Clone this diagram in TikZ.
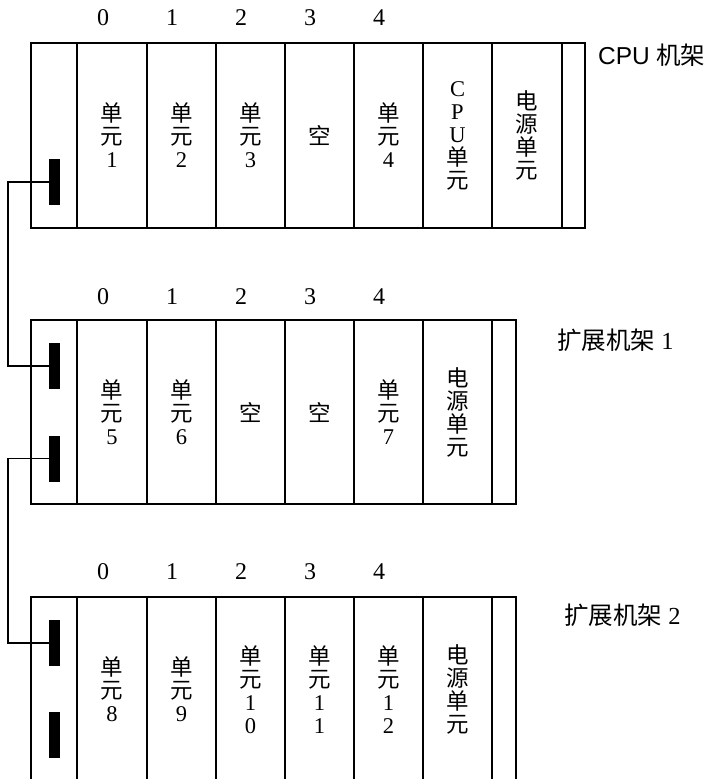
\documentclass[tikz,border=0pt]{standalone}
\usepackage{fontspec}
\setmainfont{Liberation Serif}
\newfontfamily\cjk{Noto Sans CJK SC}
\newfontfamily\sansf{Liberation Sans}
\newcommand\cj[1]{{\cjk #1}}
\tikzset{
  rackpart/.style={draw, line width=1.3pt, inner sep=0pt, outer sep=0pt,
    anchor=north west, minimum height=185pt, align=center,
    font=\fontsize{22.5}{23}\selectfont},
  port/.style={fill=black, draw=none, inner sep=0pt, outer sep=0pt,
    minimum width=11pt, minimum height=46pt},
  slotnum/.style={font=\fontsize{24}{26}\selectfont, inner sep=0pt},
  racklabel/.style={font=\fontsize{24.5}{26}\selectfont, anchor=west, inner sep=0pt},
  wire/.style={line width=1.2pt}
}
\begin{document}
\begin{tikzpicture}[x=1pt,y=-1pt]
\useasboundingbox (0,0) rectangle (715,779);
\clip (0,0) rectangle (715,779);
% ---------------- CPU rack ----------------
\node[rackpart, minimum width=46] (r1f) at (31,43) {};
\node[rackpart, minimum width=70] (r1s0) at (77,43) {\cj{单}\\\cj{元}\\1};
\node[rackpart, minimum width=69] (r1s1) at (147,43) {\cj{单}\\\cj{元}\\2};
\node[rackpart, minimum width=69] (r1s2) at (216,43) {\cj{单}\\\cj{元}\\3};
\node[rackpart, minimum width=69] (r1s3) at (285,43) {\cj{空}};
\node[rackpart, minimum width=69] (r1s4) at (354,43) {\cj{单}\\\cj{元}\\4};
\node[rackpart, minimum width=69] (r1cpu) at (423,43) {C\\P\\U\\\cj{单}\\\cj{元}};
\node[rackpart, minimum width=70] (r1pw) at (492,43) {\cj{电}\\\cj{源}\\\cj{单}\\\cj{元}};
\node[rackpart, minimum width=23] (r1e) at (562,43) {};
\node[racklabel] (r1lab) at (598,55) {{\sansf CPU} \cj{机架}};
\node[slotnum] (r1n0) at (103,18) {0};
\node[slotnum] (r1n1) at (172,18) {1};
\node[slotnum] (r1n2) at (241,18) {2};
\node[slotnum] (r1n3) at (310,18) {3};
\node[slotnum] (r1n4) at (379,18) {4};
\node[port] (p1) at (54.5,182) {};
% ---------------- Expansion rack 1 ----------------
\node[rackpart, minimum width=46, minimum height=184] (r2f) at (31,320) {};
\node[rackpart, minimum width=70, minimum height=184] (r2s0) at (77,320) {\cj{单}\\\cj{元}\\5};
\node[rackpart, minimum width=69, minimum height=184] (r2s1) at (147,320) {\cj{单}\\\cj{元}\\6};
\node[rackpart, minimum width=69, minimum height=184] (r2s2) at (216,320) {\cj{空}};
\node[rackpart, minimum width=69, minimum height=184] (r2s3) at (285,320) {\cj{空}};
\node[rackpart, minimum width=69, minimum height=184] (r2s4) at (354,320) {\cj{单}\\\cj{元}\\7};
\node[rackpart, minimum width=69, minimum height=184] (r2pw) at (423,320) {\cj{电}\\\cj{源}\\\cj{单}\\\cj{元}};
\node[rackpart, minimum width=24, minimum height=184] (r2e) at (492,320) {};
\node[racklabel] (r2lab) at (557,340) {\cj{扩展机架} 1};
\node[slotnum] (r2n0) at (103,297) {0};
\node[slotnum] (r2n1) at (172,297) {1};
\node[slotnum] (r2n2) at (241,297) {2};
\node[slotnum] (r2n3) at (310,297) {3};
\node[slotnum] (r2n4) at (379,297) {4};
\node[port] (p2a) at (54.5,366) {};
\node[port] (p2b) at (54.5,458.5) {};
% ---------------- Expansion rack 2 ----------------
\node[rackpart, minimum width=46] (r3f) at (31,597) {};
\node[rackpart, minimum width=70] (r3s0) at (77,597) {\cj{单}\\\cj{元}\\8};
\node[rackpart, minimum width=69] (r3s1) at (147,597) {\cj{单}\\\cj{元}\\9};
\node[rackpart, minimum width=69] (r3s2) at (216,597) {\cj{单}\\\cj{元}\\1\\0};
\node[rackpart, minimum width=69] (r3s3) at (285,597) {\cj{单}\\\cj{元}\\1\\1};
\node[rackpart, minimum width=69] (r3s4) at (354,597) {\cj{单}\\\cj{元}\\1\\2};
\node[rackpart, minimum width=69] (r3pw) at (423,597) {\cj{电}\\\cj{源}\\\cj{单}\\\cj{元}};
\node[rackpart, minimum width=24] (r3e) at (492,597) {};
\node[racklabel] (r3lab) at (564,615) {\cj{扩展机架} 2};
\node[slotnum] (r3n0) at (103,572) {0};
\node[slotnum] (r3n1) at (172,572) {1};
\node[slotnum] (r3n2) at (241,572) {2};
\node[slotnum] (r3n3) at (310,572) {3};
\node[slotnum] (r3n4) at (379,572) {4};
\node[port] (p3a) at (54.5,643) {};
\node[port] (p3b) at (54.5,735) {};
% ---------------- cables ----------------
\coordinate (bus) at (8,0);
\draw[wire] (p1.west) -- (p1.west -| bus) |- (p2a.west);
\draw[wire] (p2b.west) -- (p2b.west -| bus) |- (p3a.west);
\end{tikzpicture}
\end{document}
